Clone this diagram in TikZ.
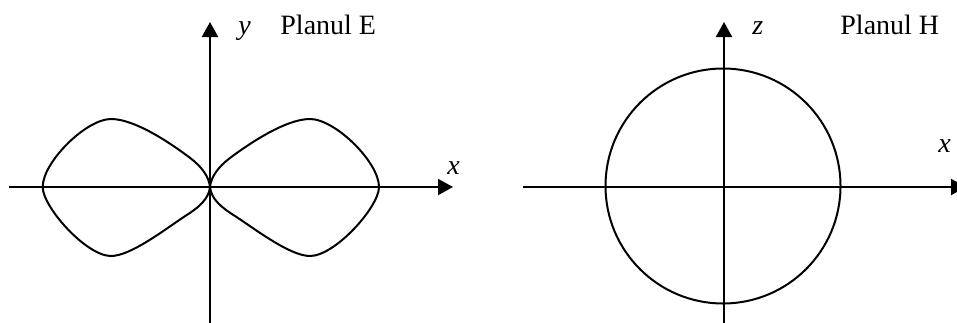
\documentclass[tikz,border=0pt]{standalone}
\usepackage{fontspec}
\setmainfont{Liberation Serif}
\usetikzlibrary{arrows.meta}
\tikzset{
  axis/.style={line width=1pt, -{Triangle[length=7.5pt,width=8pt]}},
  curve/.style={line width=1pt, line join=round},
  lbl/.style={inner sep=0pt, anchor=base west, font=\fontsize{14}{16}\selectfont},
}
\newcommand{\lobepath}{(0,0) .. controls (1,-10) and (8,-20) .. (20,-29)
  .. controls (40,-44) and (76,-68) .. (100,-68)
  .. controls (125,-68) and (169,-25) .. (169,0)
  .. controls (169,20) and (125,69) .. (100,69)
  .. controls (80,69) and (45,42) .. (25,29)
  .. controls (12,21) and (1,12) .. (0,0) -- cycle}
\begin{document}
\begin{tikzpicture}[x=0.5pt,y=-0.5pt]
\clip (0,0) rectangle (957,322);
\fill[white] (0,0) rectangle (957,322);
% left diagram
\coordinate (Ob) at (210,323);
\coordinate (Ot) at (210,22);
\coordinate (Ol) at (9,187);
\coordinate (Or) at (453,187);
\coordinate (O) at (210,187);
\draw[axis] (Ob) -- (Ot);
\draw[axis] (Ol) -- (Or);
\begin{scope}[shift={(O)}]
\draw[curve] \lobepath;
\begin{scope}[xscale=-0.99]
\draw[curve] \lobepath;
\end{scope}
\end{scope}
\node[lbl] (ly) at (238,34) {\itshape y};
\node[lbl] (lE) at (280,34) {Planul E};
\node[lbl] (lx) at (447,174) {\itshape x};
% right diagram
\coordinate (Pb) at (724,323);
\coordinate (Pt) at (724,22);
\coordinate (Pl) at (523,187);
\coordinate (Pr) at (966,187);
\coordinate (P) at (723,186);
\draw[axis] (Pb) -- (Pt);
\draw[axis] (Pl) -- (Pr);
\draw[curve] (P) circle[radius=117.5];
\node[lbl] (lz) at (752,34) {\itshape z};
\node[lbl] (lH) at (840,34) {Planul H};
\node[lbl] (lx2) at (938,152) {\itshape x};
\end{tikzpicture}
\end{document}
